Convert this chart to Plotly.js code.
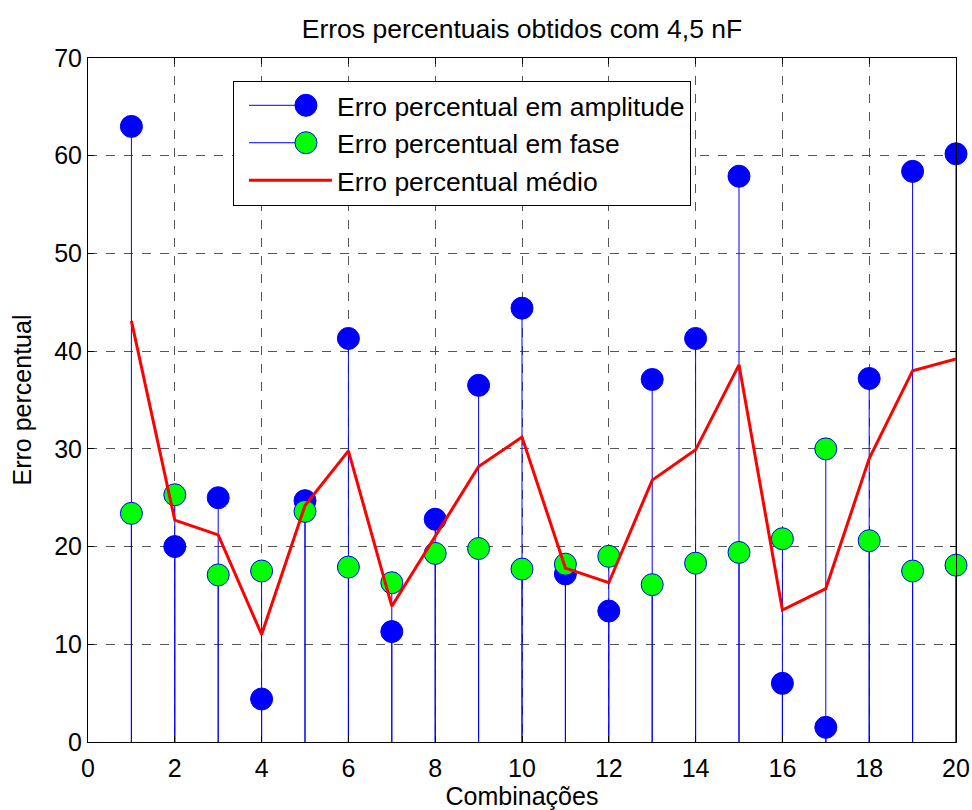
<!DOCTYPE html>
<html>
<head>
<meta charset="utf-8">
<script src="https://cdn.plot.ly/plotly-3.0.1.min.js"></script>
<style>html,body{margin:0;padding:0;background:#fff;}#chart{width:972px;height:810px;}</style>
</head>
<body>
<div id="chart"></div>
<script>
const combinacoes = [1,2,3,4,5,6,7,8,9,10,11,12,13,14,15,16,17,18,19,20];
const erroAmplitude = [63.0,20.0,25.0,4.4,24.7,41.3,11.3,22.8,36.5,44.4,17.2,13.4,37.1,41.3,57.9,6.0,1.5,37.2,58.4,60.2];
const erroFase = [23.4,25.3,17.1,17.5,23.6,17.9,16.3,19.3,19.8,17.7,18.2,19.0,16.1,18.3,19.4,20.8,30.0,20.6,17.5,18.1];
const erroMedio = [43.1,22.7,21.2,11.0,24.2,29.8,13.9,21.1,28.2,31.2,17.8,16.3,26.8,29.9,38.6,13.5,15.7,29.0,38.0,39.2];

function stems(xs, ys) {
  const x = [], y = [], sz = [], lw = [];
  xs.forEach((xv, i) => {
    x.push(xv, xv, null); y.push(0, ys[i], null);
    sz.push(0, 22, 0); lw.push(0, 1, 0);
  });
  return {x, y, sz, lw};
}
const sA = stems(combinacoes, erroAmplitude);
const sF = stems(combinacoes, erroFase);

const font = {family: 'Liberation Sans, Arial, sans-serif', color: '#000'};
const F = (s) => Object.assign({size: s}, font);

const traces = [
  {x: sA.x, y: sA.y, type: 'scatter', mode: 'lines+markers', name: 'Erro percentual em amplitude',
   legendgroup: 'a', connectgaps: false, cliponaxis: false,
   line: {color: '#0000ff', width: 1},
   marker: {color: '#0000ff', opacity: 1, size: sA.sz, line: {color: '#0000ff', width: sA.lw}}},
  {x: sF.x, y: sF.y, type: 'scatter', mode: 'lines+markers', name: 'Erro percentual em fase',
   legendgroup: 'b', connectgaps: false, cliponaxis: false,
   line: {color: '#0000ff', width: 1},
   marker: {color: '#00ff00', opacity: 1, size: sF.sz, line: {color: '#0000ff', width: sF.lw}}},
  {x: combinacoes, y: erroMedio, type: 'scatter', mode: 'lines', name: 'Erro percentual médio',
   legendgroup: 'c', cliponaxis: false, line: {color: '#ff0000', width: 3}}
];

const axisCommon = {
  showline: true, linecolor: '#000', linewidth: 1, mirror: 'ticks',
  ticks: 'inside', ticklen: 6, tickcolor: '#000',
  showgrid: true, gridcolor: '#555', griddash: 'dash', gridwidth: 1,
  zeroline: false, tickfont: F(25)
};

const layout = {
  width: 972, height: 810,
  margin: {l: 88, r: 16, t: 58, b: 68},
  paper_bgcolor: '#fff', plot_bgcolor: '#fff',
  font: font,
  title: {text: 'Erros percentuais obtidos com 4,5 nF', font: F(26.5), xref: 'paper',
          x: 0.5, xanchor: 'center', y: 0.965, yanchor: 'middle'},
  xaxis: Object.assign({}, axisCommon, {range: [0, 20], tickvals: [0,2,4,6,8,10,12,14,16,18,20],
          ticklabelstandoff: 4,
          title: {text: 'Combinações', font: F(25), standoff: 6}}),
  yaxis: Object.assign({}, axisCommon, {range: [0, 70], tickvals: [0,10,20,30,40,50,60,70],
          title: {text: 'Erro percentual', font: F(25), standoff: 15}}),
  showlegend: true,
  legend: {x: 0.167, y: 0.967, xanchor: 'left', yanchor: 'top', bgcolor: '#fff',
           bordercolor: '#000', borderwidth: 1, font: F(26.5),
           traceorder: 'grouped', tracegroupgap: 0, itemwidth: 93}
};

Plotly.newPlot('chart', traces, layout, {displayModeBar: false, staticPlot: true}).then(gd => {
  const items = gd.querySelectorAll('.legend .traces');
  items.forEach((it, i) => {
    const line = it.querySelector('.legendlines path');
    if (!line) return;
    const bb = line.getBBox();
    const x0 = bb.x + 10;
    const x1 = i < 2 ? x0 + 57 : bb.x + bb.width;
    line.setAttribute('d', `M${x0},0H${x1}`);
    if (i < 2) {
      const pt = it.querySelector('.legendpoints path');
      if (pt) {
        pt.setAttribute('d', 'M11,0A11,11 0 1,1 0,-11A11,11 0 0,1 11,0Z');
        pt.setAttribute('transform', `translate(${x1},0)`);
        pt.style.strokeWidth = '1px';
        pt.style.opacity = '1';
      }
    }
  });
});
</script>
</body>
</html>
